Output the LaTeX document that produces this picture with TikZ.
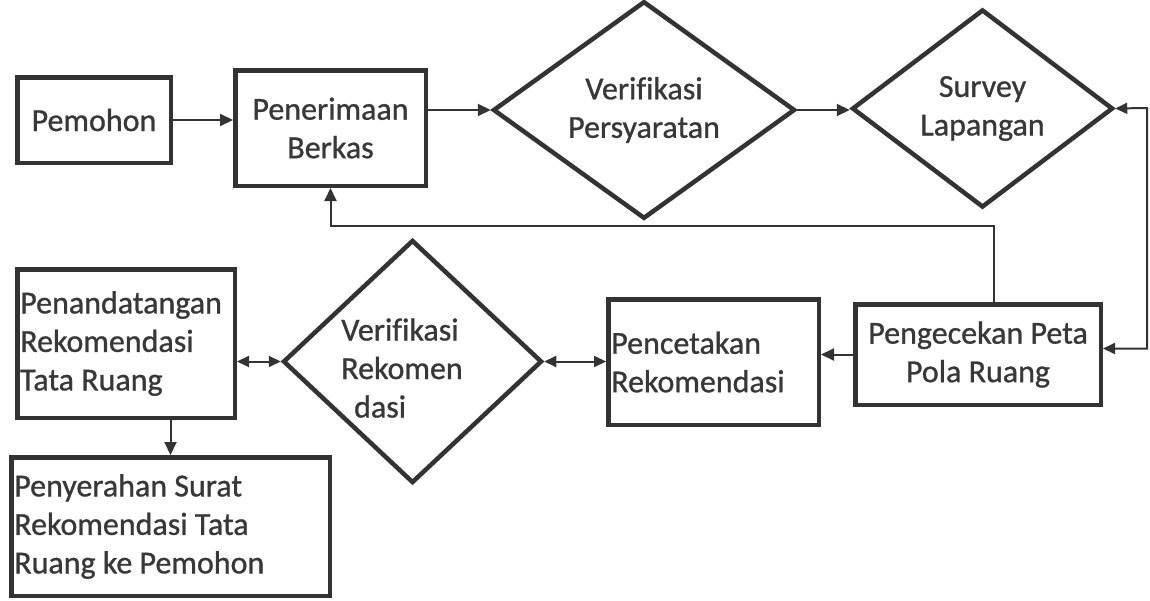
\documentclass[tikz,border=0pt]{standalone}
\usepackage{fontspec}
\setmainfont{Carlito}[FakeBold=0.9,Ligatures=NoCommon]
\usetikzlibrary{shapes.geometric,arrows.meta,calc}
\definecolor{ink}{HTML}{333333}
\definecolor{txt}{HTML}{383838}
\begin{document}
\begin{tikzpicture}[x=1pt,y=-1pt,
  font=\fontsize{32}{38.5}\selectfont, text=txt,
  box/.style={draw=ink,line width=4.5pt,rectangle,inner sep=3pt},
  dia/.style={draw=ink,line width=4.5pt,diamond,inner sep=0pt,align=center},
  conn/.style={draw=ink,line width=2pt,-{Triangle[length=13pt,width=12pt]}},
  bconn/.style={draw=ink,line width=2pt,{Triangle[length=12pt,width=11pt]}-{Triangle[length=12pt,width=11pt]}}]
\fill[white] (0,0) rectangle (1150,600);
\useasboundingbox (0,0) rectangle (1150,600);

% top row
\node[box,minimum width=153.5pt,minimum height=85.5pt] (pem) at (94,120) {Pemohon};
\node[box,align=center,minimum width=190.5pt,minimum height=115.5pt] (pen) at (330.5,128) {Penerimaan\\Berkas};
\node[dia,minimum width=302pt,minimum height=193pt] (vp) at (644,110) {Verifikasi\\Persyaratan};
\node[dia,minimum width=261pt,minimum height=198pt] (sl) at (982.5,108.5) {Survey\\Lapangan};

% bottom row
\node[box,align=center,minimum width=245.5pt,minimum height=100.5pt] (pp) at (978,354.5) {Pengecekan Peta\\Pola Ruang};
\node[box,align=flush left,text width=204.5pt,minimum height=125.5pt] (pc) at (713.5,362) {Pencetakan\\Rekomendasi};
\node[dia,minimum width=259pt,minimum height=243pt] (vr) at (412.5,361.5) {};
\node[align=flush left,inner sep=0pt] (vrt) at (402,368) {Verifikasi\\Rekomen\\\hspace*{0.4em}dasi};
\node[box,align=flush left,text width=211.5pt,minimum height=148.5pt] (pt) at (126,343.5) {Penandatangan\\Rekomendasi\\Tata Ruang};
\node[box,align=flush left,text width=312.5pt,minimum height=138.5pt] (ps) at (170.5,526.5) {Penyerahan Surat\\Rekomendasi Tata\\Ruang ke Pemohon};

% connectors
\draw[conn] (pem.east) -- (pem.east -| pen.west);
\draw[conn] (vp.west -| pen.east) -- (vp.west);
\draw[conn] (vp.east) -- (vp.east -| sl.west);

\coordinate (rl) at (1147,108);
\draw[bconn] (sl.east) -- (rl) |- ($(pp.east)+(0,-6)$);

\coordinate (fb) at (994,226);
\draw[conn] (pp.north -| fb) -- (fb) -| (pen.south);

\draw[conn] (pp.west) -- (pp.west -| pc.east);
\draw[bconn] (vr.east) -- (vr.east -| pc.west);
\draw[bconn] (vr.west -| pt.east) -- (vr.west);
\draw[conn] (ps.north |- pt.south) -- (ps.north);
\end{tikzpicture}
\end{document}
